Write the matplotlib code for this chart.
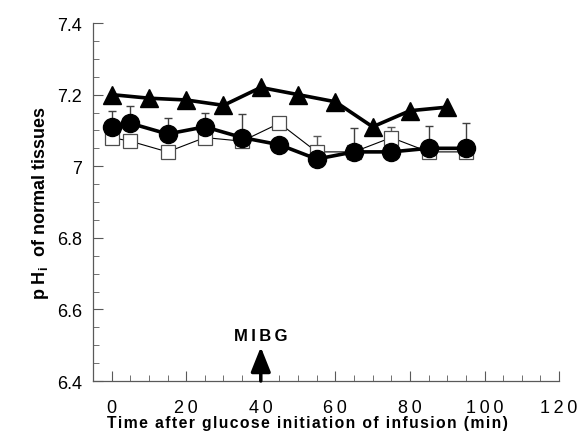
"""pHi of normal tissues after glucose infusion."""

import matplotlib

matplotlib.use("Agg")
import matplotlib.pyplot as plt
import numpy as np
from matplotlib.ticker import FuncFormatter, MultipleLocator

plt.rcParams["font.family"] = ["Liberation Sans", "DejaVu Sans"]

# triangles: sampled every 10 min
tri_time = [0, 10, 20, 30, 40, 50, 60, 70, 80, 90]
tri_ph = [7.20, 7.19, 7.185, 7.17, 7.22, 7.20, 7.18, 7.11, 7.155, 7.165]

# circles and squares: sampled at 0, 5, 15, ... 95 min
half_time = [0, 5, 15, 25, 35, 45, 55, 65, 75, 85, 95]
circ_ph = [7.11, 7.12, 7.09, 7.11, 7.08, 7.06, 7.02, 7.04, 7.04, 7.05, 7.05]
circ_err = [0.045, 0.047, 0.044, 0.04, 0.066, 0, 0, 0.068, 0, 0.063, 0.07]
sq_ph = [7.08, 7.07, 7.04, 7.08, 7.07, 7.12, 7.04, 7.04, 7.08, 7.04, 7.04]
sq_err = [0, 0, 0, 0, 0, 0, 0.045, 0, 0.03, 0, 0]

XLABEL = "Time after glucose initiation of infusion (min)"


def spaced(text: str, gap: str = "\u200a") -> str:
    # the original uses loose letter spacing
    return gap.join(text)


fig = plt.figure(figsize=(5.79, 4.35), dpi=100)
ax = fig.add_axes([0.1606, 0.1218, 0.805, 0.823])

# upper error bars only
ax.errorbar(half_time, circ_ph, yerr=[np.zeros(len(circ_err)), circ_err], fmt="none",
            ecolor="0.25", elinewidth=1.0, capsize=3, capthick=1.0, zorder=2)
ax.errorbar(half_time, sq_ph, yerr=[np.zeros(len(sq_err)), sq_err], fmt="none",
            ecolor="0.35", elinewidth=1.0, capsize=3, capthick=1.0, zorder=2)

ax.plot(half_time, sq_ph, color="black", linewidth=0.8, marker="s", markersize=10,
        markerfacecolor="white", markeredgecolor="0.3", markeredgewidth=0.9, zorder=3)
ax.plot(half_time, circ_ph, color="black", linewidth=2.6, marker="o", markersize=13,
        markerfacecolor="black", markeredgecolor="black", zorder=4)
ax.plot(tri_time, tri_ph, color="black", linewidth=2.6, marker="^", markersize=13,
        markerfacecolor="black", markeredgecolor="black", zorder=5)

ax.set_xlim(-5, 120)
ax.set_ylim(6.4, 7.4)
ax.xaxis.set_major_locator(MultipleLocator(20))
ax.xaxis.set_minor_locator(MultipleLocator(5))
ax.yaxis.set_major_locator(MultipleLocator(0.2))
ax.yaxis.set_minor_locator(MultipleLocator(0.05))
ax.yaxis.set_major_formatter(FuncFormatter(lambda v, _: f"{v:g}"))
ax.xaxis.set_major_formatter(FuncFormatter(lambda v, _: spaced(f"{v:g}", "\u2009")))

for side in ("top", "right"):
    ax.spines[side].set_visible(False)
for side in ("left", "bottom"):
    ax.spines[side].set_color("0.35")
    ax.spines[side].set_linewidth(0.9)

ax.tick_params(which="both", direction="in", colors="0.35", labelcolor="black")
ax.tick_params(which="major", length=7, width=0.8, labelsize=13, pad=8)
ax.tick_params(which="minor", length=4, width=0.6)
ax.tick_params(axis="x", which="major", pad=13)

ax.set_xlabel(spaced(XLABEL), fontsize=11.3, fontweight="bold")
ax.xaxis.set_label_coords(0.46, -0.095)
ax.set_ylabel(r"p H$_\mathregular{i}$  of normal tissues", fontsize=13,
              fontweight="bold", labelpad=4)

ax.annotate("", xy=(40, 6.495), xytext=(40, 6.4),
            arrowprops=dict(arrowstyle="-|>,head_length=1.5,head_width=0.6",
                            color="black", linewidth=2.5, shrinkA=0, shrinkB=0))
ax.text(40, 6.528, spaced("MIBG", "\u2009"), ha="center", va="center", fontsize=12,
        fontweight="bold")

fig.savefig("out.png", dpi=100)
